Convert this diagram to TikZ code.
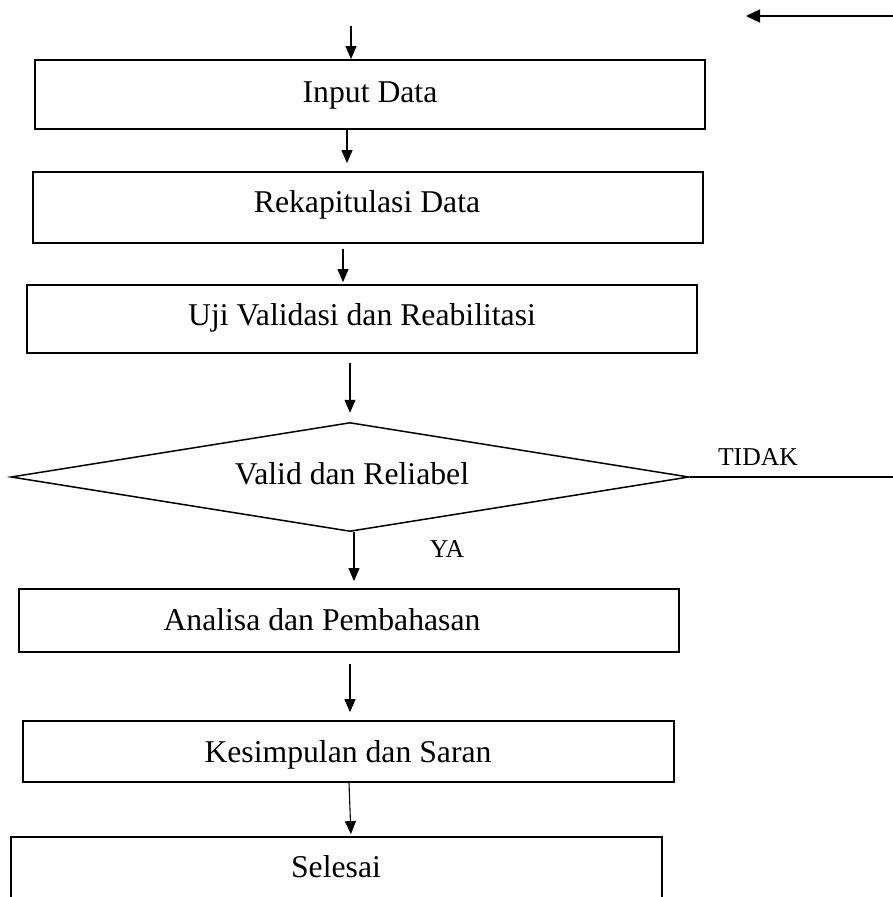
\documentclass[tikz,border=0pt]{standalone}
\usepackage{fontspec}
\setmainfont{Liberation Serif}
\usetikzlibrary{shapes.geometric,arrows.meta}
\begin{document}
\begin{tikzpicture}[x=1pt,y=-1pt,
 box/.style={draw, line width=1.8pt, inner sep=0pt, rectangle},
 txt/.style={anchor=base, inner sep=0pt, font=\fontsize{31.7}{36}\selectfont},
 lbl/.style={anchor=base, inner sep=0pt, font=\fontsize{25.7}{30}\selectfont},
 arr/.style={line width=1.1pt, -{Triangle[length=13pt,width=11pt]}},
]
\useasboundingbox (0,0) rectangle (893,897);
\clip (0,0) rectangle (893,897);
% boxes
\node[box, minimum width=670pt, minimum height=69pt] (in) at (370,94.5) {};
\node[txt] (tin) at (370,102) {Input Data};
\node[box, minimum width=670pt, minimum height=71pt] (rek) at (368,207.5) {};
\node[txt] (trek) at (367,212) {Rekapitulasi Data};
\node[box, minimum width=670pt, minimum height=68pt] (uji) at (362,319) {};
\node[txt] (tuji) at (362,325) {Uji Validasi dan Reabilitasi};
\node[diamond, draw, line width=1.5pt, inner sep=0pt, minimum width=678pt, minimum height=109pt] (dec) at (350,477) {};
\node[txt] (tdec) at (352,484) {Valid dan Reliabel};
\node[box, minimum width=660pt, minimum height=63pt] (ana) at (349,620.5) {};
\node[txt] (tana) at (322,630) {Analisa dan Pembahasan};
\node[box, minimum width=651pt, minimum height=61pt] (kes) at (348.5,751.5) {};
\node[txt] (tkes) at (348,762) {Kesimpulan dan Saran};
\node[box, minimum width=651pt, minimum height=80pt] (sel) at (336.5,877) {};
\node[txt] (tsel) at (336,877) {Selesai};
% labels
\node[lbl] (tidak) at (758,465) {TIDAK};
\node[lbl] (ya) at (447,557) {YA};
% connectors
\coordinate (s0) at (351,26);
\draw[arr] (s0) -- ([xshift=-19pt]in.north);
\draw[arr, shorten >=8pt] ([xshift=-23pt]in.south) -- ([xshift=-21pt]rek.north);
\draw[arr, shorten <=5pt, shorten >=2pt] ([xshift=-25pt]rek.south) -- ([xshift=-19pt]uji.north);
\draw[arr, shorten <=9pt, shorten >=9pt] ([xshift=-12pt]uji.south) -- (dec.north);
\draw[arr, shorten >=7pt] ([xshift=4pt]dec.south) -- ([xshift=5pt]ana.north);
\draw[arr, shorten <=11pt, shorten >=8pt] ([xshift=1pt]ana.south) -- ([xshift=1.5pt]kes.north);
\draw[arr, shorten >=2pt] ([xshift=0.5pt]kes.south) -- ([xshift=14.5pt]sel.north);
\coordinate (tEnd) at (893,477);
\draw[line width=1.1pt] (dec.east) -- (tEnd);
\coordinate (rA) at (893,16);
\coordinate (rB) at (746,16);
\draw[line width=1.3pt, -{Triangle[length=14pt,width=13pt]}] (rA) -- (rB);
\end{tikzpicture}
\end{document}
